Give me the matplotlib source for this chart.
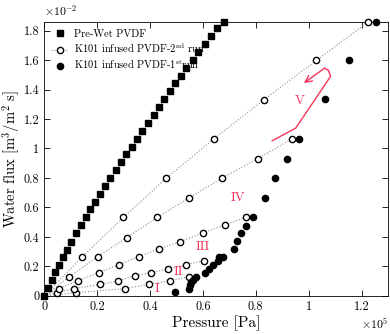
import matplotlib
matplotlib.use("Agg")
import matplotlib.pyplot as plt
from matplotlib.ticker import FuncFormatter, MultipleLocator

plt.rcParams['font.family'] = ['cmr10', 'DejaVu Serif']
plt.rcParams['mathtext.fontset'] = 'cm'
plt.rcParams['axes.unicode_minus'] = False
plt.rcParams['axes.formatter.use_mathtext'] = True

# pressure in 1e5 Pa, flux in 1e-2 m3/m2 s
prewet_p = [0, 0.016, 0.029, 0.042, 0.057, 0.071, 0.086, 0.102, 0.122, 0.14, 0.16, 0.175,
            0.192, 0.211, 0.23, 0.25, 0.27, 0.29, 0.311, 0.331, 0.351, 0.371, 0.394, 0.414,
            0.434, 0.455, 0.475, 0.495, 0.517, 0.538, 0.561, 0.582, 0.608, 0.63, 0.655, 0.679]
prewet_f = [0, 0.052, 0.109, 0.159, 0.211, 0.264, 0.313, 0.368, 0.427, 0.479, 0.536, 0.59,
            0.638, 0.693, 0.749, 0.80, 0.853, 0.908, 0.96, 1.013, 1.067, 1.12, 1.174, 1.226,
            1.28, 1.333, 1.39, 1.442, 1.494, 1.548, 1.60, 1.657, 1.712, 1.764, 1.817, 1.86]

# 2nd run, one dotted line per stage
run2_I_p = [0, 0.12, 0.307, 0.398, 0.475, 0.547]
run2_I_f = [0, 0.022, 0.05, 0.079, 0.102, 0.131]
run2_II_p = [0, 0.048, 0.115, 0.212, 0.279, 0.342, 0.405, 0.468, 0.537, 0.603]
run2_II_f = [0, 0.022, 0.05, 0.079, 0.102, 0.136, 0.158, 0.183, 0.211, 0.24]
run2_III_p = [0, 0.056, 0.127, 0.206, 0.283, 0.357, 0.433, 0.515, 0.60, 0.683, 0.764]
run2_III_f = [0, 0.05, 0.102, 0.158, 0.212, 0.267, 0.317, 0.369, 0.426, 0.482, 0.534]
run2_IV_p = [0, 0.096, 0.203, 0.313, 0.427, 0.546, 0.672, 0.808, 0.937]
run2_IV_f = [0, 0.131, 0.267, 0.396, 0.532, 0.663, 0.799, 0.932, 1.066]
run2_V_p = [0, 0.145, 0.30, 0.462, 0.642, 0.831, 1.029, 1.226]
run2_V_f = [0, 0.267, 0.532, 0.799, 1.066, 1.331, 1.597, 1.86]

# 1st run
run1_p = [0.494, 0.548, 0.552, 0.557, 0.562, 0.574, 0.607, 0.625, 0.638, 0.658, 0.662, 0.675,
          0.717, 0.731, 0.745, 0.765, 0.788, 0.836, 0.872, 0.919, 0.965, 1.06, 1.152, 1.256]
run1_f = [0.025, 0.05, 0.072, 0.092, 0.11, 0.13, 0.158, 0.186, 0.21, 0.235, 0.265, 0.267,
          0.317, 0.371, 0.426, 0.477, 0.533, 0.663, 0.799, 0.932, 1.066, 1.333, 1.597, 1.86]

stage_labels = ['I', 'II', 'III', 'IV', 'V']
stage_pos = [(0.427, 0.045), (0.509, 0.16), (0.60, 0.33), (0.734, 0.667), (0.967, 1.32)]

arrow_p = [0.862, 0.951, 1.083, 1.075, 1.06]
arrow_f = [1.052, 1.138, 1.49, 1.53, 1.545]
arrow_tip = (0.982, 1.444)

red = '#f7355c'

fig = plt.figure(figsize=(3.9, 3.34), dpi=100)
ax = fig.add_axes([0.113, 0.114, 0.882, 0.821])

runs = [(run2_I_p, run2_I_f), (run2_II_p, run2_II_f), (run2_III_p, run2_III_f),
        (run2_IV_p, run2_IV_f), (run2_V_p, run2_V_f)]
for i, (p, f) in enumerate(runs):
    ax.plot(p, f, ls=':', lw=0.8, color='#8c8c8c', marker='o', ms=4.5, mfc='white',
            mec='black', mew=1.0, markevery=slice(1, None), clip_on=False,
            label='K101 infused PVDF-2$^{\\rm nd}$ run' if i == 0 else None, zorder=3)

ax.plot(prewet_p, prewet_f, ls='none', marker='s', ms=4.5, color='black', clip_on=False,
        label='Pre-Wet PVDF', zorder=4)
ax.plot(run1_p, run1_f, ls='none', marker='o', ms=4.5, color='black', clip_on=False,
        label='K101 infused PVDF-1$^{\\rm st}$run', zorder=4)

for lab, (px, fy) in zip(stage_labels, stage_pos):
    ax.text(px, fy, lab, color=red, fontsize=9.5, ha='center', va='center')

ax.plot(arrow_p, arrow_f, color=red, lw=1.0)
ax.annotate('', xy=arrow_tip, xytext=(arrow_p[-1], arrow_f[-1]),
            arrowprops=dict(arrowstyle='->', color=red, lw=1.0, mutation_scale=12,
                            shrinkA=0, shrinkB=0))

ax.set_xlim(0, 1.3)
ax.set_ylim(0, 1.86)
ax.xaxis.set_major_locator(MultipleLocator(0.2))
ax.yaxis.set_major_locator(MultipleLocator(0.2))
fmt = FuncFormatter(lambda v, pos: '%g' % round(v, 2))
ax.xaxis.set_major_formatter(fmt)
ax.yaxis.set_major_formatter(fmt)
ax.tick_params(direction='in', top=True, right=True, labelsize=8.8, length=4, width=0.6)
for s in ax.spines.values():
    s.set_linewidth(0.6)

ax.set_xlabel('Pressure [Pa]', fontsize=11, labelpad=2)
ax.set_ylabel('Water flux [m$^3$/m$^2$ s]', fontsize=10.5, labelpad=1)
ax.text(0.0, 1.015, r'$\times10^{-2}$', transform=ax.transAxes, fontsize=8.5, ha='left', va='bottom')
ax.text(1.0, -0.075, r'$\times10^{5}$', transform=ax.transAxes, fontsize=8.5, ha='right', va='top')

handles, labels = ax.get_legend_handles_labels()
order = [1, 0, 2]
ax.legend([handles[i] for i in order], [labels[i] for i in order], loc='upper left',
          frameon=False, fontsize=7.5, handlelength=1.6, handletextpad=0.6,
          borderaxespad=0.3, labelspacing=0.3)

fig.savefig('out.png', dpi=100)
